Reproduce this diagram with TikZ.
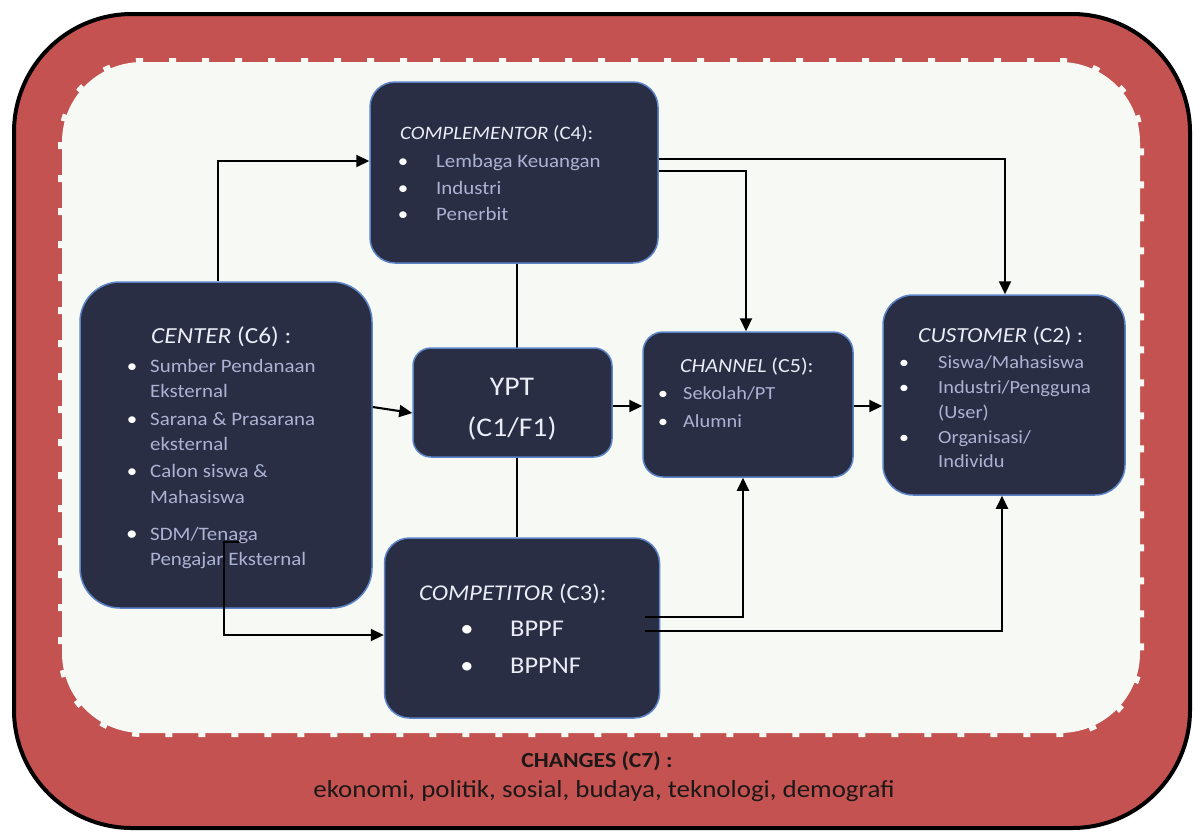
\documentclass[tikz,border=0pt]{standalone}
\usepackage{fontspec}
\setmainfont{Carlito}[FakeStretch=1.1]
\usetikzlibrary{arrows.meta,calc}
\definecolor{redbg}{RGB}{196,82,80}
\definecolor{paper}{RGB}{246,249,244}
\definecolor{navy}{RGB}{42,46,68}
\definecolor{edgeblue}{RGB}{92,132,200}
\definecolor{titlec}{RGB}{234,236,246}
\definecolor{itemc}{RGB}{172,178,210}
\definecolor{darktext}{RGB}{28,24,24}
\tikzset{
  box/.style={draw=edgeblue, line width=1.5pt, fill=navy, rounded corners=#1, inner sep=0pt},
  conn/.style={line width=2.1pt, -{Triangle[length=13pt,width=12pt]}},
  thinline/.style={line width=1.1pt},
  ttl/.style={anchor=base west, inner sep=0pt, text=titlec, font=\fontsize{#1}{#1}\selectfont},
  itm/.style={anchor=base west, inner sep=0pt, text=itemc, font=\fontsize{#1}{#1}\selectfont},
  bul/.style={anchor=base, inner sep=0pt, text=white, font=\fontsize{#1}{#1}\selectfont},
  ctext/.style={anchor=base, inner sep=0pt, text=darktext, font=\fontsize{#1}{#1}\selectfont},
}
\begin{document}
\begin{tikzpicture}[x=1pt,y=-1pt]
\useasboundingbox (0,0) rectangle (1194,836);
% frame
\draw[line width=4pt, fill=redbg, rounded corners=118pt] (14,14) rectangle (1190,828);
\fill[paper, rounded corners=80pt] (62,62) rectangle (1140,733);
\draw[paper, line width=8pt, dash pattern=on 7pt off 26pt, rounded corners=80pt] (62,62) rectangle (1140,733);
% boxes
\node[box=25pt, minimum width=288pt, minimum height=181pt] (c4) at (514,172.5) {};
\node[box=25pt, minimum width=275pt, minimum height=180pt] (c3) at (522,628) {};
\draw[thinline] (517,0 |- c4.south) -- (517,0 |- c3.north);
\node[box=40pt, minimum width=292pt, minimum height=326pt] (c6) at (226,445) {};
\node[box=18pt, minimum width=199pt, minimum height=109pt] (ypt) at (512.5,402.5) {};
\node[box=20pt, minimum width=210pt, minimum height=145pt] (c5) at (748,404.5) {};
\node[box=30pt, minimum width=242pt, minimum height=200pt] (c2) at (1004,395) {};
% connectors
\draw[conn] (218,0 |- c6.north) -- (218,161) -- (c4.west |- 0,161);
\draw[conn] (c6.east |- 0,407) -- (ypt.west |- 0,413);
\draw[conn] (ypt.east |- 0,406) -- (c5.west |- 0,406);
\draw[conn] (c5.east |- 0,406) -- (c2.west |- 0,406);
\draw[conn] (c4.east |- 0,159) -| (c2.north -| 1005,0);
\draw[conn] (c4.east |- 0,171) -| (c5.north -| 746,0);
\coordinate (sdm) at (246,542);
\draw[conn] (sdm) -- (224,542) |- (c3.west |- 0,635);
\coordinate (c3a) at (645,617);
\coordinate (c3b) at (645,631);
\draw[conn] (c3a) -| (c5.south -| 743,0);
\draw[conn] (c3b) -| (c2.south -| 1002,0);
% C4 text
\node[ttl=19] (c4t) at (400,139) {\textit{COMPLEMENTOR} (C4):};
\node[bul=19] (c4b1) at (403,167) {•};
\node[bul=19] (c4b2) at (403,194) {•};
\node[bul=19] (c4b3) at (403,220) {•};
\node[itm=19] (c4i1) at (436,167) {Lembaga Keuangan};
\node[itm=19] (c4i2) at (436,194) {Industri};
\node[itm=19] (c4i3) at (436,220) {Penerbit};
% C6 text
\node[ttl=23] (c6t) at (151,343) {\textit{CENTER} (C6) :};
\node[bul=19] (c6b1) at (132,372) {•};
\node[bul=19] (c6b2) at (132,425) {•};
\node[bul=19] (c6b3) at (132,477) {•};
\node[bul=21] (c6b4) at (132,540) {•};
\node[itm=19] (c6i1) at (150,372) {Sumber Pendanaan};
\node[itm=19] (c6i2) at (150,397) {Eksternal};
\node[itm=19] (c6i3) at (150,425) {Sarana \& Prasarana};
\node[itm=19] (c6i4) at (150,450) {eksternal};
\node[itm=19] (c6i5) at (150,477) {Calon siswa \&};
\node[itm=19] (c6i6) at (150,503) {Mahasiswa};
\node[itm=19] (c6i7) at (150,540) {SDM/Tenaga};
\node[itm=19] (c6i8) at (150,565) {Pengajar Eksternal};
% YPT
\node[anchor=base, inner sep=0pt, text=titlec, font=\fontsize{27}{27}\selectfont] (yptt1) at (512,395) {YPT};
\node[anchor=base, inner sep=0pt, text=titlec, font=\fontsize{27}{27}\selectfont] (yptt2) at (512,436) {(C1/F1)};
% C5 text
\node[ttl=20] (c5t) at (680,372) {\textit{CHANNEL} (C5):};
\node[bul=18] (c5b1) at (663,399) {•};
\node[bul=18] (c5b2) at (663,427) {•};
\node[itm=18.5] (c5i1) at (683,399) {Sekolah/PT};
\node[itm=18.5] (c5i2) at (683,427) {Alumni};
% C2 text
\node[ttl=21.5] (c2t) at (918,342) {\textit{CUSTOMER} (C2) :};
\node[bul=18] (c2b1) at (904,368) {•};
\node[bul=18] (c2b2) at (904,393) {•};
\node[bul=18] (c2b3) at (904,443) {•};
\node[itm=18.5] (c2i1) at (938,368) {Siswa/Mahasiswa};
\node[itm=18.5] (c2i2) at (938,393) {Industri/Pengguna};
\node[itm=18.5] (c2i3) at (938,418) {(User)};
\node[itm=18.5] (c2i4) at (938,443) {Organisasi/};
\node[itm=18.5] (c2i5) at (938,467) {Individu};
% C3 text
\node[ttl=22.5] (c3t) at (419,600) {\textit{COMPETITOR} (C3):};
\node[bul=24] (c3b1) at (467,636) {•};
\node[bul=24] (c3b2) at (467,673) {•};
\node[ttl=24] (c3i1) at (510,636) {BPPF};
\node[ttl=24] (c3i2) at (510,673) {BPPNF};
% changes
\node[ctext=21.5] (c7t) at (597,767) {\textbf{CHANGES (C7) :}};
\node[ctext=24.5] (c7i) at (604,797) {ekonomi, politik, sosial, budaya, teknologi, demografi};
\end{tikzpicture}
\end{document}
